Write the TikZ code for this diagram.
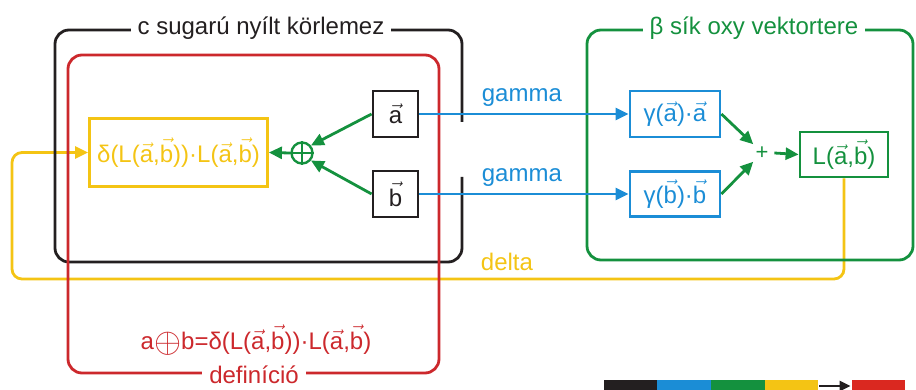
\documentclass[tikz,border=0pt]{standalone}
\usepackage{fontspec}
\setmainfont{Liberation Sans}
\usetikzlibrary{arrows.meta}
\definecolor{cblack}{RGB}{35,31,32}
\definecolor{cred}{RGB}{204,40,44}
\definecolor{cblue}{RGB}{27,141,214}
\definecolor{cgreen}{RGB}{20,145,62}
\definecolor{cyellow}{RGB}{244,196,20}
\definecolor{cbarred}{RGB}{218,40,32}
\newcommand{\vv}[1]{\ensuremath{\vec{\mbox{#1}}}}
\newcommand{\bigop}{\raisebox{-2.5pt}{\scalebox{1.4}{$\oplus$}}}
\begin{document}
\begin{tikzpicture}[x=1pt,y=-1pt, line width=2.8pt,
  txt/.style={font=\fontsize{24}{26}\selectfont, inner sep=0pt},
  frametitle/.style={txt, fill=white, inner xsep=7pt, inner ysep=2pt},
  box/.style={draw, inner sep=0pt, font=\fontsize{24}{26}\selectfont},
  tip/.style={-{Triangle[length=13pt,width=12pt]}},
  bar/.style={inner sep=0pt, minimum height=12pt, draw=none},
]
\useasboundingbox (0,0) rectangle (916,390);

% boxes
\node[box, cyellow, minimum width=178pt, minimum height=68pt] (D) at (178.5,152.5)
  {δ(L(\vv{a},\vv{b}))·L(\vv{a},\vv{b})};
\node[box, cblack, minimum width=45pt, minimum height=46pt] (A) at (395.5,114) {\vv{a}};
\node[box, cblack, minimum width=45pt, minimum height=46pt] (B) at (395.5,194) {\vv{b}};
\node[draw=cgreen, circle, minimum size=21pt, inner sep=0pt, line width=2.4pt] (O) at (302,153) {};
\draw[cgreen, line width=2.4pt] (O.north) -- (O.south) (O.west) -- (O.east);

\node[box, cblue, minimum width=90pt, minimum height=46pt] (Ga) at (675,114) {γ(\vv{a})·\vv{a}};
\node[box, cblue, minimum width=90pt, minimum height=45pt] (Gb) at (675,194) {γ(\vv{b})·\vv{b}};
\node[text=cgreen, circle, minimum size=22pt, inner sep=0pt, font=\fontsize{22}{24}\selectfont] (P) at (762,153) {+};
\node[box, cgreen, minimum width=88pt, minimum height=45pt] (L) at (844,154.5) {L(\vv{a},\vv{b})};

% yellow feedback
\coordinate (yl) at (12,279);
\draw[cyellow, tip, rounded corners=10pt] (L.south) |- (yl) |- (D.west);
\node[txt, text=cyellow] (dl) at (507,262) {delta};

% frames
\draw[cblack, rounded corners=14pt] (462,122) -- (462,30) -- (55,30) -- (55,262) -- (462,262) -- (462,177);
\node[frametitle, text=cblack] (t1) at (261,28) {c sugarú nyílt körlemez};

\draw[cred, rounded corners=14pt] (68,55) rectangle (439,373);
\node[frametitle, text=cred] (t2) at (254,375) {definíció};
\node[txt, text=cred] (f) at (256,340) {a\bigop b=δ(L(\vv{a},\vv{b}))·L(\vv{a},\vv{b})};

\draw[cgreen, rounded corners=14pt] (587,30) rectangle (913,260);
\node[frametitle, text=cgreen] (t3) at (754,28) {β sík oxy vektortere};

% connectors
\draw[cgreen, tip] (A.west) -- (O.40);
\draw[cgreen, tip] (B.west) -- (O.-40);
\draw[cgreen, tip] (O.west) -- (D.east);
\draw[cblue, tip] (A.east) -- node[txt, above=6pt, pos=0.49] (g1) {gamma} (Ga.west);
\draw[cblue, tip] (B.east) -- node[txt, above=6pt, pos=0.49] (g2) {gamma} (Gb.west);
\draw[cgreen, tip] (Ga.east) -- (P.135);
\draw[cgreen, tip] (Gb.east) -- (P.-135);
\draw[cgreen, tip] (P.east) -- (L.west);

% colour bar
\node[bar, fill=cblack, minimum width=53pt] (k1) at (630.5,386) {};
\node[bar, fill=cblue, minimum width=54pt] (k2) at (684,386) {};
\node[bar, fill=cgreen, minimum width=54pt] (k3) at (738,386) {};
\node[bar, fill=cyellow, minimum width=53pt] (k4) at (791.5,386) {};
\node[bar, fill=cbarred, minimum width=53pt] (k5) at (878.5,386) {};
\draw[cblack, line width=2.8pt, -{Triangle[length=11pt,width=10pt]}] (k4.east) -- (k5.west);
\end{tikzpicture}
\end{document}
